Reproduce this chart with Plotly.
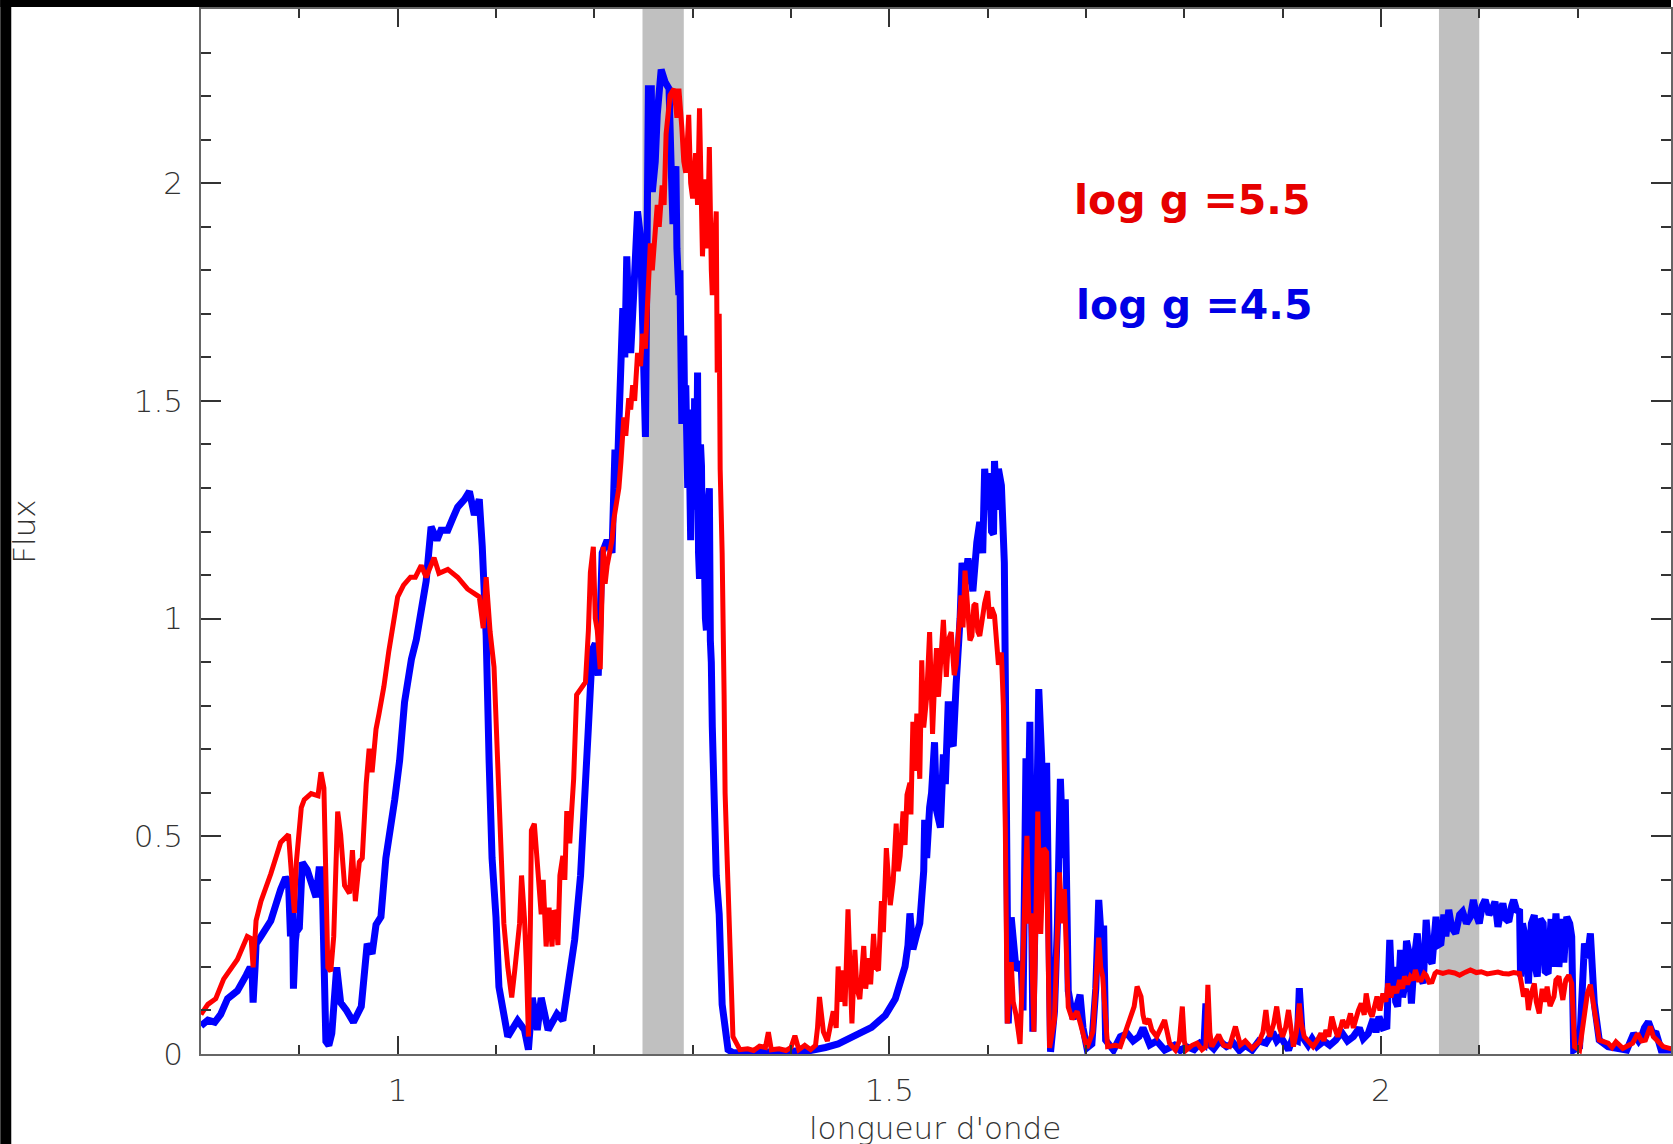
import plotly.graph_objects as go

# ---- data: (wavelength, flux) ----
blue_pts = [(0.800,0.065),(0.807,0.078),(0.814,0.073),(0.820,0.091),(0.827,0.127),(0.837,0.145),(0.846,0.181),(0.850,0.199),(0.852,0.190),(0.853,0.118),(0.855,0.200),(0.856,0.253),(0.861,0.270),(0.871,0.306),(0.881,0.378),(0.886,0.405),(0.889,0.396),(0.891,0.270),(0.893,0.360),(0.894,0.150),(0.896,0.260),(0.897,0.280),(0.900,0.290),(0.903,0.440),(0.908,0.423),(0.913,0.387),(0.917,0.360),(0.920,0.423),(0.923,0.423),(0.925,0.226),(0.927,0.029),(0.930,0.020),(0.933,0.047),(0.938,0.199),(0.942,0.118),(0.948,0.100),(0.955,0.073),(0.963,0.109),(0.966,0.181),(0.969,0.253),(0.974,0.230),(0.978,0.297),(0.983,0.315),(0.988,0.450),(0.997,0.584),(1.002,0.674),(1.007,0.808),(1.014,0.907),(1.019,0.952),(1.024,1.013),(1.029,1.086),(1.034,1.211),(1.040,1.180),(1.044,1.203),(1.051,1.203),(1.056,1.230),(1.061,1.256),(1.068,1.274),(1.073,1.292),(1.078,1.238),(1.083,1.274),(1.086,1.167),(1.090,0.961),(1.093,0.674),(1.096,0.450),(1.100,0.315),(1.103,0.154),(1.108,0.091),(1.112,0.040),(1.122,0.077),(1.129,0.055),(1.133,0.010),(1.137,0.129),(1.142,0.055),(1.146,0.129),(1.153,0.055),(1.162,0.092),(1.168,0.077),(1.174,0.173),(1.180,0.262),(1.186,0.410),(1.190,0.558),(1.194,0.751),(1.198,0.928),(1.201,0.943),(1.204,0.869),(1.208,1.151),(1.213,1.180),(1.218,1.151),(1.221,1.388),(1.223,1.300),(1.225,1.447),(1.227,1.550),(1.229,1.713),(1.231,1.600),(1.233,1.832),(1.235,1.700),(1.237,1.610),(1.240,1.743),(1.242,1.820),(1.244,1.935),(1.247,1.876),(1.249,1.610),(1.252,1.417),(1.255,2.217),(1.258,2.217),(1.259,1.980),(1.262,2.050),(1.264,2.157),(1.268,2.261),(1.272,2.232),(1.276,2.217),(1.278,2.050),(1.280,1.906),(1.281,2.000),(1.283,2.039),(1.284,1.850),(1.286,1.743),(1.287,1.800),(1.289,1.447),(1.290,1.620),(1.291,1.650),(1.292,1.450),(1.293,1.536),(1.295,1.300),(1.296,1.480),(1.298,1.180),(1.299,1.400),(1.300,1.450),(1.301,1.250),(1.302,1.506),(1.304,1.300),(1.305,1.565),(1.306,1.150),(1.307,1.091),(1.308,1.400),(1.309,1.350),(1.310,1.100),(1.311,1.269),(1.313,1.000),(1.314,0.973),(1.315,1.250),(1.317,1.299),(1.318,0.950),(1.319,0.900),(1.320,0.751),(1.322,0.600),(1.324,0.410),(1.327,0.321),(1.330,0.114),(1.336,0.010),(1.341,0.003),(1.360,0.003),(1.380,0.004),(1.400,0.006),(1.420,0.008),(1.435,0.015),(1.448,0.023),(1.465,0.042),(1.482,0.061),(1.496,0.089),(1.506,0.126),(1.516,0.201),(1.519,0.250),(1.521,0.323),(1.524,0.240),(1.528,0.276),(1.531,0.300),(1.533,0.360),(1.535,0.420),(1.536,0.538),(1.538,0.450),(1.541,0.566),(1.543,0.600),(1.546,0.716),(1.548,0.560),(1.552,0.520),(1.555,0.688),(1.557,0.620),(1.560,0.810),(1.562,0.720),(1.565,0.707),(1.568,0.850),(1.570,0.904),(1.572,1.000),(1.574,1.128),(1.577,1.080),(1.580,1.138),(1.585,1.063),(1.589,1.175),(1.592,1.222),(1.595,1.150),(1.597,1.344),(1.600,1.250),(1.602,1.334),(1.604,1.200),(1.606,1.194),(1.607,1.362),(1.609,1.250),(1.611,1.344),(1.614,1.306),(1.617,1.128),(1.619,0.707),(1.621,0.070),(1.624,0.314),(1.629,0.192),(1.634,0.211),(1.636,0.100),(1.639,0.679),(1.641,0.500),(1.643,0.763),(1.646,0.051),(1.649,0.400),(1.652,0.838),(1.655,0.679),(1.657,0.400),(1.660,0.669),(1.664,0.005),(1.668,0.098),(1.671,0.300),(1.674,0.632),(1.677,0.450),(1.679,0.585),(1.682,0.145),(1.687,0.080),(1.694,0.136),(1.697,0.060),(1.701,0.014),(1.706,0.023),(1.710,0.150),(1.713,0.354),(1.716,0.250),(1.718,0.295),(1.720,0.032),(1.728,0.009),(1.735,0.040),(1.742,0.047),(1.748,0.030),(1.754,0.040),(1.758,0.060),(1.765,0.021),(1.772,0.030),(1.780,0.009),(1.790,0.020),(1.796,0.008),(1.802,0.017),(1.810,0.010),(1.816,0.025),(1.820,0.020),(1.822,0.116),(1.824,0.025),(1.830,0.012),(1.836,0.030),(1.843,0.017),(1.850,0.025),(1.856,0.008),(1.862,0.020),(1.869,0.009),(1.876,0.030),(1.883,0.025),(1.890,0.050),(1.894,0.030),(1.898,0.040),(1.902,0.020),(1.906,0.009),(1.910,0.035),(1.915,0.030),(1.917,0.151),(1.920,0.040),(1.926,0.020),(1.930,0.035),(1.935,0.017),(1.942,0.030),(1.948,0.020),(1.954,0.032),(1.960,0.050),(1.966,0.030),(1.972,0.040),(1.978,0.060),(1.982,0.035),(1.987,0.047),(1.992,0.080),(1.995,0.050),(1.998,0.086),(2.002,0.060),(2.006,0.063),(2.009,0.262),(2.011,0.150),(2.013,0.200),(2.015,0.120),(2.017,0.109),(2.020,0.239),(2.022,0.130),(2.024,0.155),(2.026,0.260),(2.028,0.239),(2.030,0.150),(2.031,0.116),(2.034,0.220),(2.037,0.277),(2.040,0.180),(2.043,0.162),(2.046,0.308),(2.049,0.220),(2.052,0.208),(2.054,0.300),(2.056,0.315),(2.058,0.250),(2.061,0.254),(2.064,0.320),(2.066,0.270),(2.069,0.331),(2.072,0.290),(2.076,0.277),(2.080,0.320),(2.083,0.327),(2.087,0.300),(2.091,0.315),(2.094,0.354),(2.097,0.320),(2.100,0.300),(2.103,0.340),(2.106,0.354),(2.110,0.320),(2.113,0.331),(2.116,0.350),(2.119,0.292),(2.122,0.330),(2.124,0.346),(2.127,0.310),(2.130,0.304),(2.133,0.340),(2.135,0.354),(2.138,0.330),(2.141,0.327),(2.142,0.178),(2.144,0.300),(2.146,0.277),(2.148,0.180),(2.150,0.162),(2.153,0.300),(2.156,0.319),(2.157,0.200),(2.159,0.178),(2.162,0.310),(2.165,0.300),(2.167,0.190),(2.170,0.185),(2.173,0.310),(2.175,0.200),(2.178,0.323),(2.180,0.220),(2.181,0.200),(2.184,0.310),(2.186,0.210),(2.189,0.315),(2.192,0.300),(2.194,0.270),(2.196,0.009),(2.202,0.017),(2.205,0.150),(2.207,0.254),(2.210,0.220),(2.213,0.277),(2.217,0.116),(2.222,0.032),(2.231,0.017),(2.240,0.012),(2.250,0.009),(2.257,0.047),(2.262,0.030),(2.265,0.040),(2.268,0.060),(2.272,0.074),(2.276,0.050),(2.280,0.047),(2.285,0.009),(2.300,0.009)]

red_pts = [(0.800,0.091),(0.807,0.114),(0.815,0.127),(0.823,0.172),(0.837,0.217),(0.847,0.270),(0.851,0.265),(0.853,0.199),(0.856,0.306),(0.861,0.351),(0.871,0.414),(0.881,0.486),(0.889,0.504),(0.891,0.450),(0.895,0.324),(0.897,0.441),(0.902,0.566),(0.905,0.584),(0.912,0.598),(0.919,0.593),(0.922,0.647),(0.925,0.611),(0.927,0.405),(0.929,0.199),(0.932,0.190),(0.935,0.270),(0.939,0.557),(0.942,0.504),(0.946,0.387),(0.951,0.369),(0.954,0.468),(0.957,0.351),(0.961,0.441),(0.964,0.450),(0.968,0.620),(0.971,0.701),(0.974,0.647),(0.978,0.746),(0.981,0.781),(0.986,0.844),(0.991,0.925),(0.996,1.005),(1.000,1.050),(1.006,1.077),(1.013,1.095),(1.018,1.095),(1.024,1.122),(1.029,1.095),(1.034,1.122),(1.037,1.140),(1.042,1.104),(1.051,1.113),(1.061,1.095),(1.071,1.068),(1.083,1.050),(1.087,0.978),(1.090,1.095),(1.094,0.970),(1.098,0.889),(1.101,0.719),(1.104,0.500),(1.106,0.380),(1.108,0.300),(1.112,0.200),(1.116,0.130),(1.119,0.190),(1.122,0.260),(1.124,0.300),(1.126,0.410),(1.129,0.310),(1.131,0.200),(1.133,0.040),(1.135,0.300),(1.136,0.514),(1.139,0.529),(1.142,0.440),(1.144,0.380),(1.146,0.321),(1.148,0.400),(1.151,0.247),(1.154,0.336),(1.157,0.247),(1.159,0.330),(1.161,0.321),(1.163,0.250),(1.165,0.410),(1.168,0.455),(1.170,0.400),(1.172,0.558),(1.175,0.484),(1.177,0.560),(1.179,0.632),(1.182,0.825),(1.186,0.840),(1.191,0.854),(1.194,0.973),(1.196,1.106),(1.199,1.165),(1.201,1.000),(1.203,0.973),(1.206,0.884),(1.209,1.165),(1.211,1.080),(1.213,1.121),(1.218,1.180),(1.220,1.230),(1.223,1.269),(1.225,1.300),(1.227,1.358),(1.230,1.462),(1.232,1.420),(1.235,1.506),(1.237,1.480),(1.239,1.536),(1.241,1.500),(1.244,1.610),(1.247,1.580),(1.249,1.654),(1.252,1.620),(1.254,1.743),(1.257,1.862),(1.259,1.800),(1.261,1.876),(1.264,1.950),(1.266,1.900),(1.269,1.995),(1.271,1.950),(1.273,2.113),(1.277,2.202),(1.281,2.217),(1.284,2.150),(1.286,2.217),(1.289,2.128),(1.291,2.050),(1.293,2.024),(1.296,2.157),(1.298,2.000),(1.300,1.965),(1.303,2.069),(1.305,1.950),(1.307,2.172),(1.310,1.832),(1.312,1.950),(1.313,2.009),(1.315,1.850),(1.317,2.083),(1.319,1.800),(1.320,1.743),(1.322,1.850),(1.324,1.935),(1.325,1.565),(1.327,1.700),(1.328,1.343),(1.330,1.151),(1.332,0.825),(1.333,0.600),(1.335,0.455),(1.338,0.203),(1.341,0.040),(1.348,0.010),(1.356,0.012),(1.362,0.008),(1.368,0.018),(1.374,0.015),(1.377,0.050),(1.380,0.010),(1.388,0.012),(1.395,0.008),(1.400,0.015),(1.404,0.042),(1.408,0.010),(1.414,0.020),(1.420,0.010),(1.425,0.020),(1.427,0.060),(1.429,0.131),(1.431,0.080),(1.433,0.051),(1.437,0.030),(1.440,0.070),(1.443,0.098),(1.446,0.060),(1.448,0.201),(1.450,0.120),(1.453,0.192),(1.455,0.110),(1.458,0.332),(1.460,0.200),(1.462,0.070),(1.465,0.239),(1.467,0.150),(1.470,0.126),(1.472,0.200),(1.474,0.248),(1.476,0.150),(1.479,0.220),(1.481,0.160),(1.484,0.276),(1.486,0.200),(1.489,0.192),(1.492,0.351),(1.494,0.280),(1.497,0.473),(1.499,0.400),(1.501,0.342),(1.504,0.398),(1.507,0.529),(1.509,0.420),(1.511,0.454),(1.514,0.557),(1.516,0.480),(1.518,0.595),(1.521,0.623),(1.522,0.550),(1.524,0.763),(1.526,0.650),(1.528,0.782),(1.531,0.632),(1.533,0.904),(1.535,0.750),(1.538,0.819),(1.541,0.969),(1.544,0.735),(1.546,0.850),(1.548,0.932),(1.550,0.820),(1.552,0.913),(1.555,0.997),(1.558,0.866),(1.560,0.950),(1.563,0.969),(1.566,0.870),(1.568,0.894),(1.571,0.980),(1.573,1.053),(1.575,0.980),(1.577,1.110),(1.580,1.016),(1.582,0.950),(1.584,0.960),(1.586,1.030),(1.588,1.035),(1.590,0.970),(1.592,0.960),(1.595,1.020),(1.597,1.035),(1.600,1.063),(1.602,1.000),(1.604,1.025),(1.607,1.007),(1.609,0.950),(1.611,0.894),(1.614,0.922),(1.616,0.801),(1.618,0.520),(1.620,0.070),(1.622,0.150),(1.624,0.211),(1.626,0.120),(1.629,0.089),(1.633,0.023),(1.635,0.150),(1.637,0.257),(1.640,0.501),(1.642,0.300),(1.644,0.323),(1.647,0.051),(1.649,0.300),(1.651,0.557),(1.654,0.276),(1.657,0.473),(1.660,0.463),(1.663,0.014),(1.668,0.080),(1.671,0.250),(1.673,0.417),(1.676,0.300),(1.678,0.379),(1.682,0.108),(1.686,0.080),(1.691,0.098),(1.696,0.050),(1.701,0.014),(1.707,0.051),(1.710,0.150),(1.713,0.267),(1.715,0.200),(1.717,0.178),(1.722,0.017),(1.730,0.020),(1.735,0.017),(1.741,0.055),(1.745,0.080),(1.749,0.109),(1.752,0.155),(1.756,0.132),(1.758,0.090),(1.760,0.070),(1.764,0.080),(1.767,0.055),(1.772,0.040),(1.776,0.060),(1.780,0.078),(1.785,0.025),(1.791,0.009),(1.795,0.030),(1.798,0.109),(1.800,0.030),(1.802,0.009),(1.808,0.020),(1.813,0.025),(1.818,0.010),(1.822,0.017),(1.824,0.159),(1.826,0.050),(1.828,0.017),(1.832,0.030),(1.835,0.044),(1.840,0.020),(1.846,0.017),(1.849,0.040),(1.852,0.063),(1.857,0.021),(1.862,0.030),(1.869,0.013),(1.872,0.020),(1.876,0.028),(1.880,0.050),(1.883,0.101),(1.885,0.060),(1.887,0.040),(1.891,0.070),(1.894,0.109),(1.897,0.060),(1.900,0.040),(1.903,0.060),(1.906,0.101),(1.909,0.050),(1.911,0.017),(1.914,0.050),(1.917,0.116),(1.919,0.070),(1.922,0.040),(1.926,0.030),(1.931,0.017),(1.935,0.030),(1.939,0.047),(1.942,0.030),(1.944,0.055),(1.947,0.040),(1.950,0.086),(1.953,0.060),(1.956,0.040),(1.959,0.060),(1.961,0.078),(1.965,0.060),(1.969,0.093),(1.972,0.060),(1.974,0.078),(1.977,0.100),(1.980,0.116),(1.983,0.090),(1.985,0.139),(1.988,0.100),(1.991,0.086),(1.994,0.120),(1.996,0.132),(1.999,0.100),(2.002,0.139),(2.005,0.120),(2.007,0.162),(2.010,0.130),(2.013,0.155),(2.016,0.140),(2.019,0.170),(2.022,0.150),(2.024,0.178),(2.027,0.160),(2.030,0.178),(2.033,0.170),(2.035,0.193),(2.038,0.170),(2.041,0.170),(2.044,0.185),(2.046,0.181),(2.049,0.165),(2.052,0.166),(2.055,0.185),(2.057,0.189),(2.063,0.185),(2.069,0.189),(2.075,0.186),(2.080,0.181),(2.086,0.188),(2.091,0.193),(2.097,0.187),(2.102,0.189),(2.108,0.184),(2.113,0.185),(2.119,0.188),(2.124,0.185),(2.130,0.184),(2.135,0.187),(2.141,0.185),(2.143,0.160),(2.145,0.132),(2.148,0.150),(2.150,0.101),(2.153,0.140),(2.156,0.162),(2.158,0.120),(2.161,0.093),(2.164,0.150),(2.167,0.120),(2.169,0.155),(2.172,0.110),(2.176,0.132),(2.178,0.170),(2.181,0.178),(2.183,0.140),(2.185,0.124),(2.188,0.170),(2.191,0.181),(2.194,0.162),(2.197,0.017),(2.202,0.009),(2.205,0.060),(2.207,0.109),(2.210,0.140),(2.213,0.159),(2.217,0.109),(2.222,0.032),(2.231,0.025),(2.235,0.015),(2.239,0.028),(2.246,0.013),(2.252,0.020),(2.256,0.025),(2.261,0.047),(2.265,0.030),(2.269,0.032),(2.274,0.063),(2.277,0.040),(2.280,0.032),(2.287,0.017),(2.300,0.009)]

blue_wl = [p[0] for p in blue_pts]
blue_flux = [p[1] for p in blue_pts]
red_wl = [p[0] for p in red_pts]
red_flux = [p[1] for p in red_pts]

bands = [(1.249, 1.291), (2.059, 2.100)]
labels = [("log g =5.5", "#e60000", 1.808, 1.962), ("log g =4.5", "#0000e6", 1.810, 1.720)]
x_title = "longueur d'onde"
y_title = "Flux"

W, H = 1673, 1144
ML, MR, MT, MB = 201, 0, 9, 90
PW, PH = W - ML - MR, H - MT - MB

def px_x(p):
    return (p - ML) / PW

def px_y(p):
    return (H - MB - p) / PH

fig = go.Figure()
fig.add_trace(go.Scatter(x=blue_wl, y=blue_flux, mode="lines",
                         line=dict(color="#0000ff", width=7), showlegend=False))
fig.add_trace(go.Scatter(x=red_wl, y=red_flux, mode="lines",
                         line=dict(color="#ff0000", width=5), showlegend=False))

shapes = []
for a, b in bands:
    shapes.append(dict(type="rect", xref="x", yref="paper", x0=a, x1=b, y0=0, y1=1,
                       fillcolor="#c0c0c0", line=dict(width=0), layer="below"))
# black frame strips at the left and top edges of the picture
shapes.append(dict(type="rect", xref="paper", yref="paper", x0=px_x(0), x1=px_x(11),
                   y0=px_y(H), y1=px_y(0), fillcolor="black", line=dict(width=0), layer="above"))
shapes.append(dict(type="rect", xref="paper", yref="paper", x0=px_x(0), x1=px_x(W),
                   y0=px_y(7), y1=px_y(0), fillcolor="black", line=dict(width=0), layer="above"))

annotations = []
for txt, col, xx, yy in labels:
    annotations.append(dict(text=txt, x=xx, y=yy, xref="x", yref="y", showarrow=False,
                            xanchor="center", yanchor="middle",
                            font=dict(family="DejaVu Sans", size=41, color=col, weight="bold")))
annotations.append(dict(text=x_title, x=px_x(936), y=px_y(1128), xref="paper", yref="paper",
                        showarrow=False, xanchor="center", yanchor="middle",
                        font=dict(family="DejaVu Sans", size=31, color="#333333", weight=200)))
annotations.append(dict(text=y_title, x=px_x(23), y=0.5, xref="paper", yref="paper",
                        showarrow=False, xanchor="center", yanchor="middle", textangle=-90,
                        font=dict(family="DejaVu Sans", size=31, color="#333333", weight=200)))

tickfont = dict(family="DejaVu Sans", size=31, color="#333333", weight=200)
fig.update_layout(
    width=W, height=H,
    margin=dict(l=ML, r=MR, t=MT, b=MB, pad=0),
    paper_bgcolor="white", plot_bgcolor="white",
    shapes=shapes, annotations=annotations,
    xaxis=dict(range=[0.8, 2.295], tick0=0, dtick=0.5, ticks="inside", ticklen=18, tickwidth=1.5,
               tickcolor="#333333", showline=True, linecolor="#666666", linewidth=2,
               mirror="allticks", showgrid=False, zeroline=False, tickfont=tickfont,
               ticklabelstandoff=8,
               minor=dict(dtick=0.1, tick0=0, ticks="inside", ticklen=9, tickwidth=1.5,
                          tickcolor="#333333", showgrid=False)),
    yaxis=dict(range=[0, 2.4], tick0=0, dtick=0.5, ticks="inside", ticklen=20, tickwidth=1.5,
               tickcolor="#333333", showline=True, linecolor="#666666", linewidth=1.5,
               mirror="allticks", showgrid=False, zeroline=False, tickfont=tickfont,
               ticklabelstandoff=10,
               minor=dict(dtick=0.1, tick0=0, ticks="inside", ticklen=10, tickwidth=1.5,
                          tickcolor="#333333", showgrid=False)),
)

fig.write_html("out.html")
